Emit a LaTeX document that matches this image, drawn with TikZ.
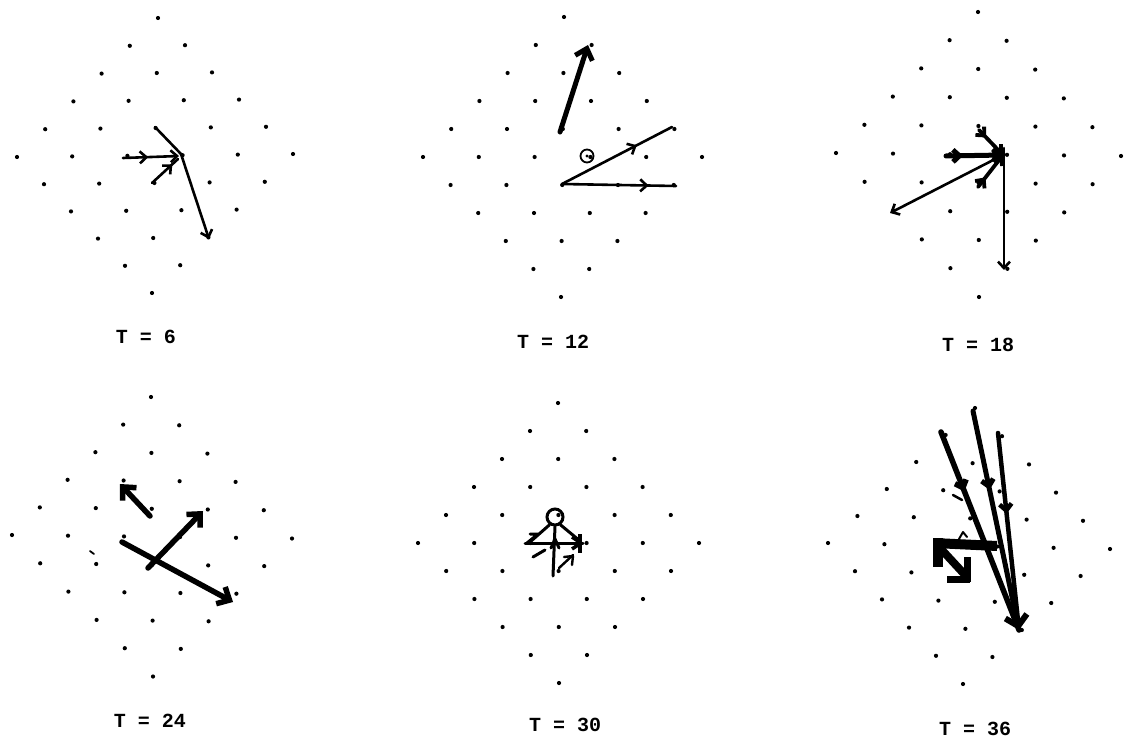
\documentclass[tikz,border=0pt]{standalone}
\usepackage{fontspec}
\newfontfamily\labfont{Liberation Mono}
\usetikzlibrary{arrows.meta,decorations.markings}
\tikzset{
  chev/.tip={Straight Barb[length=6.5pt,width=12pt]},
  bigchev/.tip={Straight Barb[length=10pt,width=19pt]},
  thinarr/.style={line width=2.6pt,line cap=round,line join=round},
  medarr/.style={line width=3.8pt,line cap=round,line join=round},
  thickarr/.style={line width=5.5pt,line cap=round,line join=round},
  midchev/.style={postaction={decorate,decoration={markings,mark=at position #1 with {\arrow{chev}}}}},
  lab/.style={font=\labfont\bfseries\fontsize{20}{24}\selectfont,inner sep=0pt},
  stroke/.style={line width=3pt,line cap=round,line join=round}
}
\newcommand\latt[6]{%
  \foreach \i in {0,...,5}{\foreach \j in {0,...,5}{%
    \fill ({#1+\i*#3+\j*#5},{#2+\i*#4+\j*#6}) circle (2.1pt);}}}
\begin{document}
\begin{tikzpicture}[x=1pt,y=-1pt]
\useasboundingbox (0,0) rectangle (1124,741);
\fill[white] (0,0) rectangle (1124,741);
% lattices
\latt{158}{18}{27}{27.2}{-28.2}{27.8}
\latt{564}{17}{27.6}{28}{-28.2}{28}
\latt{978}{12}{28.6}{28.8}{-28.4}{28.2}
\latt{151}{397}{28.2}{28.3}{-27.8}{27.6}
\latt{558}{403}{28.2}{28}{-28}{28}
\latt{975}{408}{27}{28.2}{-29.4}{27}
% labels
\node[lab] (l6)  at (146,337) {T = 6};
\node[lab] (l12) at (553,342) {T = 12};
\node[lab] (l18) at (978,345) {T = 18};
\node[lab] (l24) at (150,721) {T = 24};
\node[lab] (l30) at (565,725) {T = 30};
\node[lab] (l36) at (975,729) {T = 36};
% ---- panel 1 (T=6)
\coordinate (a1s) at (123,158); \coordinate (a1e) at (179,156);
\coordinate (a2s) at (152,183); \coordinate (a2e) at (178,159);
\coordinate (a3s) at (155,127); \coordinate (a3e) at (181,154);
\coordinate (a4e) at (209,239);
\draw[thinarr,midchev=0.45,-chev] (a1s) -- (a1e);
\draw[thinarr,midchev=0.78] (a2s) -- (a2e);
\draw[thinarr] (a3s) -- (a3e);
\draw[thinarr,-chev] (a3e) -- (a4e);
% ---- panel 2 (T=12)
\coordinate (b1s) at (560,132); \coordinate (b1e) at (588,45);
\draw[line width=5pt,line cap=round,-{Straight Barb[length=10pt,width=18pt]}] (b1s) -- (b1e);
\node[circle,draw,line width=1.8pt,minimum size=13pt,inner sep=0pt] (b0) at (587,156) {};
\fill (b0.center) circle (1.6pt);
\coordinate (b2s) at (562,184); \coordinate (b2e) at (672,127); \coordinate (b3e) at (676,186);
\draw[thinarr,midchev=0.68] (b2s) -- (b2e);
\draw[thinarr,midchev=0.76] (b2s) -- (b3e);
% ---- panel 3 (T=18)
\coordinate (c0) at (1003,155);
\coordinate (c1s) at (946,156); \coordinate (c2s) at (979,130); \coordinate (c3s) at (978,187);
\coordinate (c4s) at (1004,148); \coordinate (c4e) at (1004,270); \coordinate (c5e) at (890,213);
\draw[line width=5pt,line cap=round,midchev=0.3,-chev] (c1s) -- (c0);
\draw[medarr,midchev=0.3,-chev] (c2s) -- (c0);
\draw[medarr,midchev=0.3,-chev] (c3s) -- (c0);
\draw[thinarr,-chev] (c4s) -- (c4e);
\draw[thinarr,-chev] (c0) -- (c5e);
% ---- panel 4 (T=24)
\coordinate (d1s) at (150,516); \coordinate (d1e) at (120,484);
\coordinate (d2s) at (148,568); \coordinate (d2e) at (203,511);
\coordinate (d3s) at (122,542); \coordinate (d3e) at (233,602);
\draw[thickarr,-bigchev] (d1s) -- (d1e);
\draw[thickarr,-bigchev] (d2s) -- (d2e);
\draw[thickarr,-bigchev] (d3s) -- (d3e);
\coordinate (d4s) at (90,551); \coordinate (d4e) at (94,554);
\draw[line width=1.8pt,line cap=round] (d4s) -- (d4e);
% ---- panel 5 (T=30)
\node[circle,draw,line width=3pt,minimum size=16pt,inner sep=0pt] (e0) at (555,517) {};
\coordinate (e1) at (530,542); \coordinate (e2) at (580,541);
\coordinate (e3) at (525,543); \coordinate (e4) at (583,543);
\coordinate (e5) at (553,576);
\draw[stroke] (e0.235) -- (e1);
\draw[stroke] (e0.305) -- (e2);
\draw[stroke] (e3) -- (e4);
\draw[stroke] (e0.south) -- (e5);
\draw[stroke] (551,548) -- (555,539) -- (559,548);
\draw[stroke] (530,534) -- (538,534) -- (527,543);
\draw[stroke] (533,557) -- (545,550);
\draw[line width=3.5pt] (580,534) -- (580,553);
\draw[line width=3.5pt,line join=round] (572,537) -- (581,543) -- (572,549);
\draw[line width=2.4pt,line cap=round,line join=round] (559,568) -- (573,555);
\draw[line width=2.4pt,line cap=round,line join=round] (564,557) -- (573,556) -- (572,565);
% ---- panel 6 (T=36)
\coordinate (f0) at (1019,630);
\coordinate (f1s) at (941,432); \coordinate (f2s) at (973,411); \coordinate (f3s) at (998,433);
\draw[thickarr,midchev=0.3] (f1s) -- (f0);
\draw[line width=5pt,line cap=round,midchev=0.36,-{Straight Barb[length=10pt,width=22pt,line width=6pt]}] (f2s) -- (f0);
\draw[line width=4.5pt,line cap=round,midchev=0.41] (f3s) -- (f0);
\draw[line width=2.5pt,line cap=round] (953,495) -- (962,500);
\coordinate (g1) at (934,543); \coordinate (g2) at (997,546);
\draw[line width=10pt] (g1) -- (g2);
\draw[line width=10pt] (938,538) -- (938,567);
\coordinate (g3) at (941,549); \coordinate (g4) at (966,576);
\draw[line width=8pt] (g3) -- (g4);
\draw[line width=7pt] (947,579) -- (970,579);
\draw[line width=7pt] (967,557) -- (967,582);
\draw[line width=2pt,line cap=round,line join=round] (959,539) -- (963,532) -- (967,537);
\end{tikzpicture}
\end{document}
